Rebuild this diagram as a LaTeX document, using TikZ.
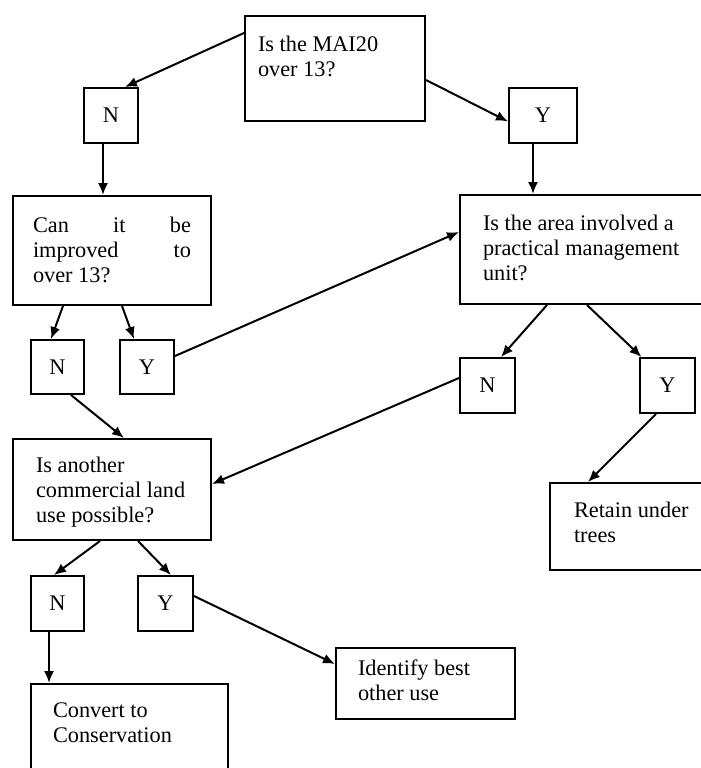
\documentclass[tikz,border=0pt]{standalone}
\usepackage{fontspec}
\setmainfont{Liberation Serif}
\usetikzlibrary{arrows.meta}
\newcommand{\boxtext}[3]{\parbox[t][#2][t]{#1}{\raggedright #3}}

\begin{document}
\begin{tikzpicture}[x=1pt,y=-1pt,
		every node/.style={font=\fontsize{22.3}{25}\selectfont},
		yn/.style={draw,line width=2pt,inner sep=0pt,minimum width=54pt,minimum height=55pt,anchor=north west},
		qbox/.style={draw,line width=2pt,anchor=north west},
		conn/.style={line width=2pt,-{Latex[length=12pt,width=10pt]}}]
		\clip (0,0) rectangle (701,768);
		% question boxes
		\node[qbox,inner xsep=13pt,inner ysep=20pt] (mai) at (244,15) {\boxtext{154pt}{65pt}{Is the MAI20\\over 13?}};
		\node[qbox,inner xsep=20pt,inner ysep=21pt] (improve) at (12,195) {\boxtext{158pt}{67pt}{Can\hfill it\hfill be\\improved\hfill to\\over 13?}};
		\node[qbox,inner xsep=23pt,inner ysep=20pt] (area) at (459,194) {\boxtext{204pt}{69pt}{Is the area involved a\\practical management\\unit?}};
		\node[qbox,inner xsep=23pt,inner ysep=18pt] (other) at (12,438) {\boxtext{152pt}{65pt}{Is another\\commercial land\\use possible?}};
		\node[qbox,inner xsep=24pt,inner ysep=19pt] (retain) at (549,482) {\boxtext{130pt}{49pt}{Retain under\\trees}};
		\node[qbox,inner xsep=22pt,inner ysep=12pt] (identify) at (335,647) {\boxtext{135pt}{47pt}{Identify best\\other use}};
		\node[qbox,inner xsep=22pt,inner ysep=19pt] (convert) at (30,683) {\boxtext{153pt}{72pt}{Convert to\\Conservation}};
		% answer boxes
		\node[yn] (n1) at (83,87) {N};
		\node[yn,minimum width=68pt] (y1) at (508,87) {Y};
		\node[yn,minimum width=53pt,minimum height=54pt] (n2) at (30,339) {N};
		\node[yn,minimum height=54pt] (y2) at (119,339) {Y};
		\node[yn,minimum width=55pt] (n3) at (459,357) {N};
		\node[yn,minimum width=55pt] (y3) at (639,357) {Y};
		\node[yn,minimum width=53pt] (n4) at (30,575) {N};
		\node[yn,minimum width=55pt] (y4) at (137,575) {Y};
		% connectors
		\path[conn]
		([yshift=-18pt]mai.north west) edge ([xshift=14pt]n1.north)
		([yshift=-65pt]mai.north east) edge ([yshift=-6pt]y1.west)
		([xshift=-8pt]n1.south) edge ([xshift=-8pt]n1.south |- improve.north)
		([xshift=-10pt]y1.south) edge ([xshift=-10pt]y1.south |- area.north)
		([xshift=51pt]improve.south west) edge ([xshift=-6.5pt]n2.north)
		([xshift=110pt]improve.south west) edge ([xshift=-13pt]y2.north)
		([yshift=11pt]y2.east) edge ([yshift=-38pt]area.north west)
		([xshift=88pt]area.south west) edge ([xshift=13.5pt]n3.north)
		([xshift=128pt]area.south west) edge ([xshift=-26pt]y3.north)
		([xshift=13.5pt]n2.south) edge ([xshift=12pt]other.north)
		([yshift=7.5pt]n3.west) edge ([yshift=5.5pt]other.east)
		([xshift=-11.5pt]y3.south) edge ([xshift=39pt]retain.north west)
		([xshift=88pt]other.south west) edge ([xshift=-3.5pt]n4.north)
		([xshift=126pt]other.south west) edge ([xshift=5.5pt]y4.north)
		([yshift=7.5pt]y4.east) edge ([yshift=19.5pt]identify.west)
		([xshift=-8.5pt]n4.south) edge ([xshift=-8.5pt]n4.south |- convert.north);
	\end{tikzpicture}
\end{document}
